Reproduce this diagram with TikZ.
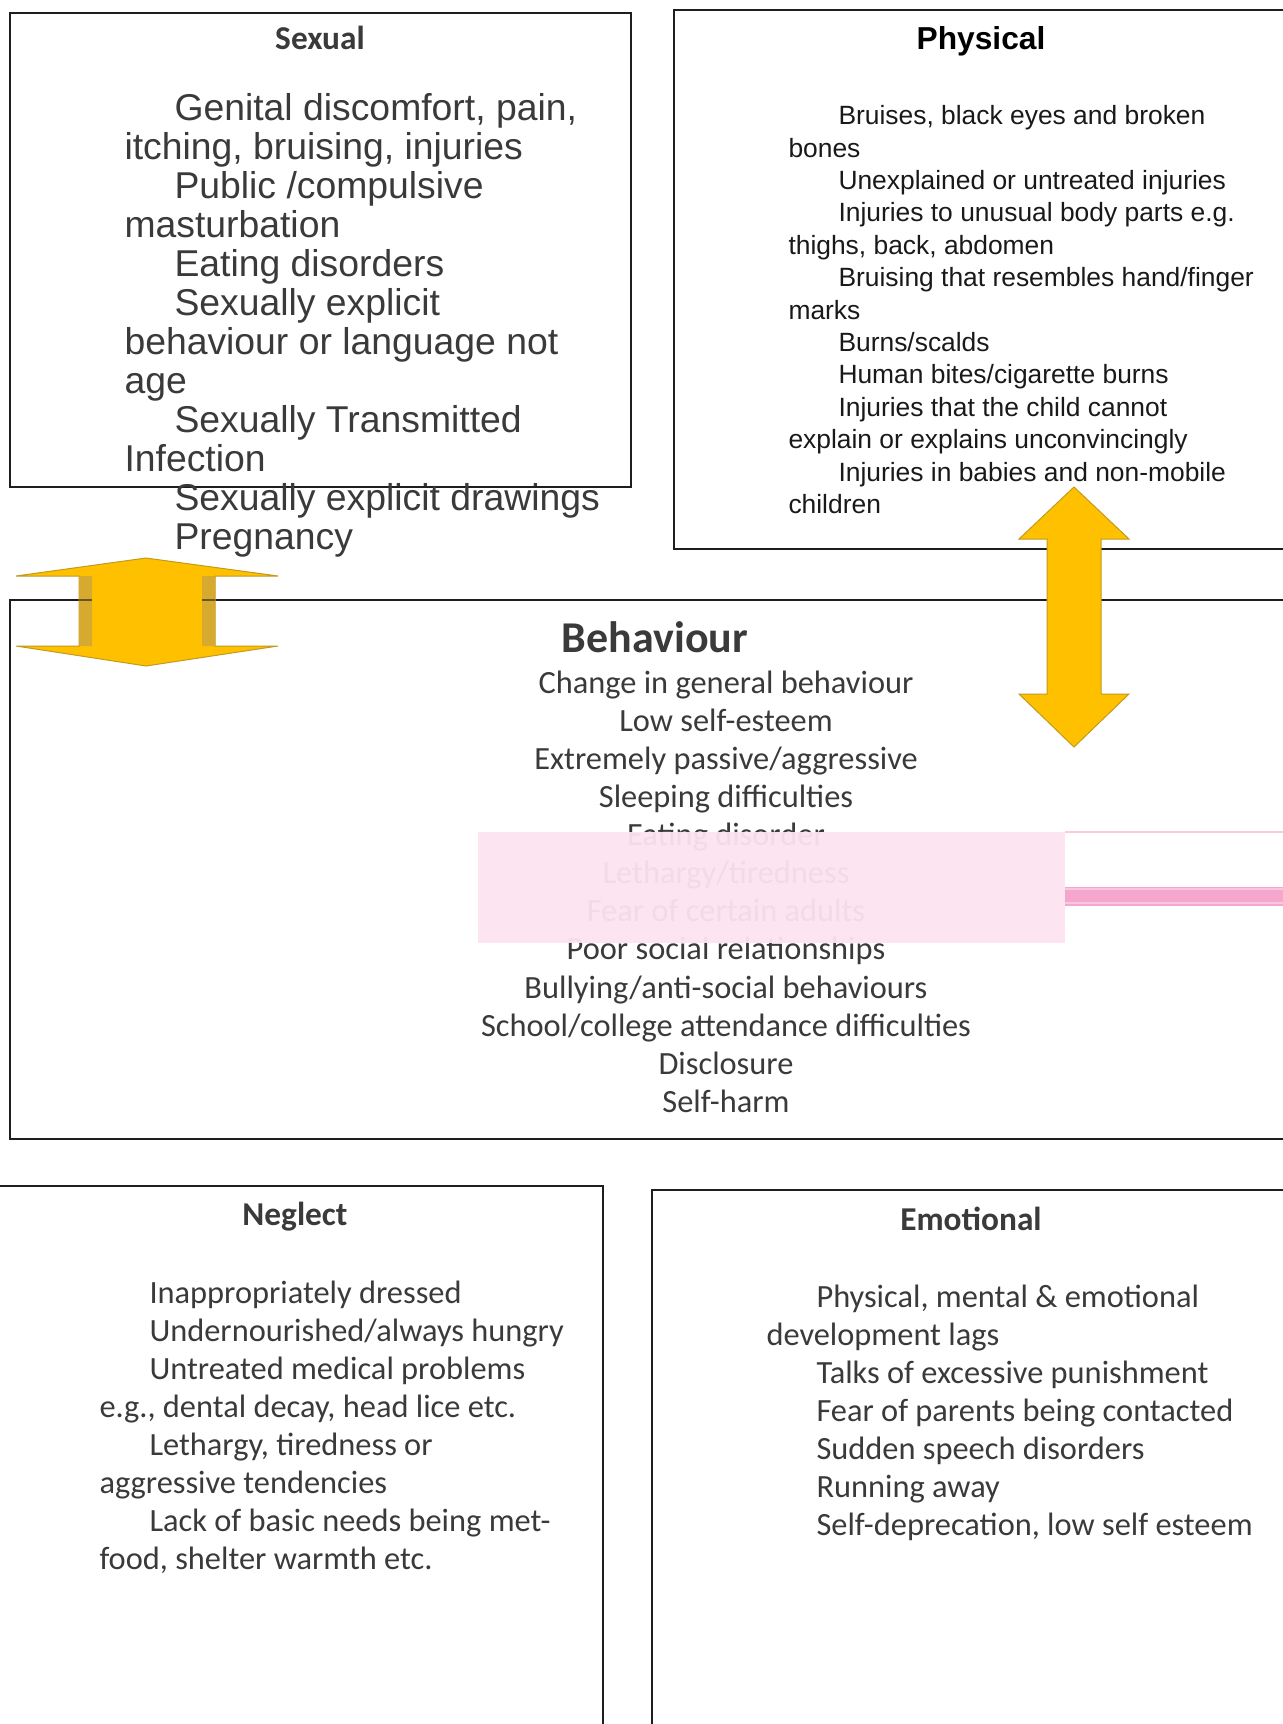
\documentclass[tikz,border=0pt]{standalone}
\usepackage{fontspec}
\newfontfamily\arialfont{Liberation Sans}
\newfontfamily\calfont{Carlito}
\usetikzlibrary{positioning}

\definecolor{panelline}{HTML}{1E1E1E}
\definecolor{listgrey}{HTML}{3A3A3A}
\definecolor{arrowgold}{HTML}{FFC000}
\definecolor{arrowedge}{HTML}{C29A1C}
\definecolor{arrowshade}{HTML}{D6AA2E}
\definecolor{veilpink}{HTML}{FCE4F0}
\definecolor{bandpink}{HTML}{F5A6CD}

\newcommand{\listindent}{\hspace*{37.5pt}}

\tikzset{every picture/.style={line width=0.75pt}}
\tikzset{
	panel/.style={draw=panelline, line width=1.5pt},
	arrowbody/.style={fill=arrowgold, draw=arrowedge, line width=0.75pt},
	listtext/.style={inner sep=0pt, text=listgrey}}

\begin{document}
\begin{tikzpicture}[x=0.75pt,y=0.75pt,yscale=-1,xscale=1]
	\path[use as bounding box] (0,0) rectangle (1282,1724);

	%Shape: Rectangle [Sexual]
	\draw [panel] (10,13) -- (631,13) -- (631,487) -- (10,487) -- cycle ;
	%Shape: Rectangle [Physical]
	\draw [panel] (1292,10) -- (674,10) -- (674,549) -- (1292,549) ;
	%Shape: Rectangle [Behaviour]
	\draw [panel] (1292,600) -- (10,600) -- (10,1139) -- (1292,1139) ;
	%Shape: Rectangle [Neglect]
	\draw [panel] (-5,1186) -- (603,1186) -- (603,1730) ;
	%Shape: Rectangle [Emotional]
	\draw [panel] (1292,1190) -- (652,1190) -- (652,1730) ;

	% Text Node
	\draw (320,38) node (sexhead) [listtext, font=\calfont\bfseries\fontsize{25}{30}\selectfont] {Sexual};
	% Text Node
	\draw (124,93) node (sexlist) [listtext, anchor=north west, align=left, font=\arialfont\fontsize{28}{29.24}\selectfont] {\listindent Genital discomfort, pain,\\itching, bruising, injuries\\\listindent Public /compulsive\\masturbation\\\listindent Eating disorders\\\listindent Sexually explicit\\behaviour or language not\\age\\\listindent Sexually Transmitted\\Infection\\\listindent Sexually explicit drawings\\\listindent Pregnancy};

	% Text Node
	\draw (981,41) node (physhead) [inner sep=0pt, text=black, font=\arialfont\bfseries\fontsize{23.8}{28}\selectfont] {Physical};
	% Text Node
	\draw (788,105) node (physlist) [inner sep=0pt, text=black!90, anchor=north west, align=left, font=\arialfont\fontsize{19.8}{24.3}\selectfont] {\listindent Bruises, black eyes and broken\\bones\\\listindent Unexplained or untreated injuries\\\listindent Injuries to unusual body parts e.g.\\thighs, back, abdomen\\\listindent Bruising that resembles hand/finger\\marks\\\listindent Burns/scalds\\\listindent Human bites/cigarette burns\\\listindent Injuries that the child cannot\\explain or explains unconvincingly\\\listindent Injuries in babies and non-mobile\\children};

	% Text Node
	\draw (655,637) node (behhead) [listtext, font=\calfont\bfseries\fontsize{33}{40}\selectfont] {Behaviour};
	% Text Node
	\draw (726,670) node (behlist) [listtext, anchor=north, align=center, font=\calfont\fontsize{24.3}{28.6}\selectfont] {Change in general behaviour\\Low self-esteem\\Extremely passive/aggressive\\Sleeping difficulties\\Eating disorder\\Lethargy/tiredness\\Fear of certain adults\\Poor social relationships\\Bullying/anti-social behaviours\\School/college attendance difficulties\\Disclosure\\Self-harm};

	%Shape: Rectangle [pink veil]
	\fill [veilpink, fill opacity=0.95] (478,832) rectangle (1065,943) ;
	%Straight Lines
	\draw [veilpink!60!bandpink, line width=1.2pt] (1065,832) -- (1290,832) ;
	%Shape: Rectangle [pink band]
	\fill [bandpink] (1065,887) rectangle (1290,906) ;
	\draw [veilpink!50!bandpink, line width=0.8pt] (1065,889) -- (1290,889) (1065,903) -- (1290,903) ;

	% Text Node
	\draw (295,1217) node (neghead) [listtext, font=\calfont\bfseries\fontsize{25}{30}\selectfont] {Neglect};
	% Text Node
	\draw (99,1280) node (neglist) [listtext, anchor=north west, align=left, font=\calfont\fontsize{24.3}{28.6}\selectfont] {\listindent Inappropriately dressed\\\listindent Undernourished/always hungry\\\listindent Untreated medical problems\\e.g., dental decay, head lice etc.\\\listindent Lethargy, tiredness or\\aggressive tendencies\\\listindent Lack of basic needs being met-\\food, shelter warmth etc.};

	% Text Node
	\draw (971,1219) node (emohead) [listtext, font=\calfont\bfseries\fontsize{25}{30}\selectfont] {Emotional};
	% Text Node
	\draw (766,1284) node (emolist) [listtext, anchor=north west, align=left, font=\calfont\fontsize{24.3}{28.6}\selectfont] {\listindent Physical, mental \& emotional\\development lags\\\listindent Talks of excessive punishment\\\listindent Fear of parents being contacted\\\listindent Sudden speech disorders\\\listindent Running away\\\listindent Self-deprecation, low self esteem};

	%Shape: Up Down Arrow [left]
	\draw [arrowbody] (146,558) -- (278,576) -- (215,576) -- (215,646) -- (278,646) -- (146,666) -- (16,646) -- (79,646) -- (79,576) -- (16,576) -- cycle ;
	\fill [arrowshade] (79,576) rectangle (92,646) (202,576) rectangle (215,646) ;
	\draw [panelline, line width=1.5pt, draw opacity=0.6] (79,600) -- (92,600) (202,600) -- (215,600) ;
	%Shape: Up Down Arrow [right]
	\draw [arrowbody] (1074,487) -- (1129,539) -- (1101,539) -- (1101,694) -- (1129,694) -- (1074,747) -- (1019,694) -- (1047,694) -- (1047,539) -- (1019,539) -- cycle ;

\end{tikzpicture}
\end{document}
